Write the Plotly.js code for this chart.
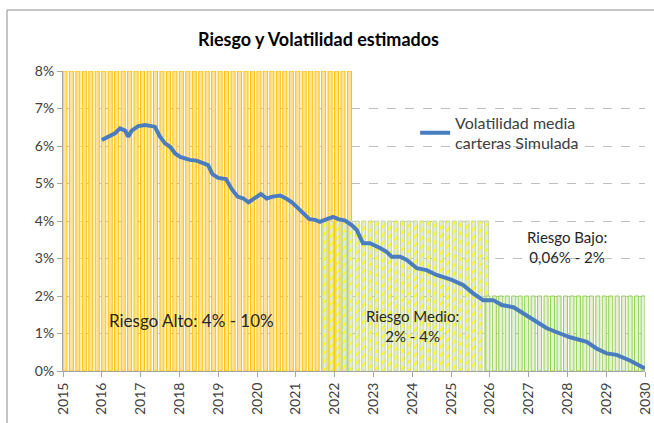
<!DOCTYPE html>
<html>
<head>
<meta charset="utf-8">
<script src="https://cdn.plot.ly/plotly-3.0.1.min.js"></script>
<style>
html,body{margin:0;padding:0;background:#fff;}
#chart{width:654px;height:423px;}
</style>
</head>
<body>
<div id="chart"></div>
<script>
// ---- Data ----
const xTickYears = [2015,2016,2017,2018,2019,2020,2021,2022,2023,2024,2025,2026,2027,2028,2029,2030];
const yTickVals = [0,1,2,3,4,5,6,7,8];
const yTickText = ['0%','1%','2%','3%','4%','5%','6%','7%','8%'];

// Risk zones (bar bands)
const zoneNames  = ['Riesgo Alto', 'Riesgo Medio', 'Riesgo Bajo'];
const zoneStart  = [2015.05, 2021.75, 2025.95];
const zoneEnd    = [2022.40, 2025.85, 2030.00];
const zoneLevel  = [8, 4, 2];
const barsPerYear = 6;

// Volatility line (year, %)
const volYear = [2016.0,2016.21,2016.34,2016.47,2016.6,2016.68,2016.77,2016.94,2017.11,2017.29,2017.37,2017.5,2017.63,2017.76,2017.89,2018.02,2018.14,2018.27,2018.44,2018.62,2018.74,2018.85,2019.0,2019.2,2019.35,2019.5,2019.65,2019.78,2019.9,2020.0,2020.1,2020.25,2020.4,2020.6,2020.75,2020.9,2021.05,2021.2,2021.35,2021.5,2021.62,2021.8,2021.96,2022.1,2022.27,2022.44,2022.57,2022.73,2022.91,2023.17,2023.34,2023.47,2023.69,2023.86,2024.12,2024.37,2024.63,2025.02,2025.32,2025.57,2025.83,2026.09,2026.31,2026.61,2026.86,2027.12,2027.47,2027.81,2028.07,2028.5,2028.75,2029.01,2029.27,2029.61,2030.0];
const volValue = [6.16,6.27,6.34,6.47,6.41,6.25,6.41,6.53,6.56,6.53,6.51,6.25,6.07,5.98,5.8,5.71,5.67,5.63,5.61,5.54,5.49,5.25,5.15,5.12,4.85,4.65,4.6,4.5,4.6,4.65,4.72,4.6,4.65,4.68,4.6,4.5,4.35,4.2,4.05,4.03,3.98,4.05,4.11,4.05,4.01,3.89,3.76,3.41,3.41,3.28,3.18,3.05,3.05,2.96,2.74,2.69,2.56,2.43,2.29,2.07,1.89,1.89,1.76,1.7,1.54,1.36,1.14,1.0,0.9,0.78,0.6,0.47,0.43,0.28,0.07];

// ---- Build bar traces ----
const zoneStyles = [
  {fill:'#FFE29A', line:'#FFC000', pattern:null},
  {fill:'#E3EBD3', line:'#C5D7A5', pattern:{shape:'/', fgcolor:'#FFFF00', bgcolor:'#E3EBD3', size:6, solidity:0.35}},
  {fill:'#E4F1D7', line:'#92D050', pattern:null}
];
const traces = [];
zoneNames.forEach((nm, i) => {
  const xs = [], ys = [];
  const n = Math.round((zoneEnd[i] - zoneStart[i]) * barsPerYear);
  for (let k = 0; k <= n; k++) { xs.push(zoneStart[i] + k / barsPerYear); ys.push(zoneLevel[i]); }
  const st = zoneStyles[i];
  const marker = {color: st.fill, line: {color: st.line, width: 1}};
  if (st.pattern) marker.pattern = st.pattern;
  traces.push({type:'bar', x: xs, y: ys, name: nm, width: 0.62 / barsPerYear,
    marker: marker, showlegend:false, hoverinfo:'skip'});
});
traces.push({type:'scatter', mode:'lines', x: volYear, y: volValue,
  name:'Volatilidad media<br>carteras Simulada',
  line:{color:'#4A7DC0', width:4}});

const font = "Lato, 'Open Sans', 'Liberation Sans', sans-serif";
const layout = {
  width:654, height:423,
  margin:{l:63, r:9, t:71, b:52},
  paper_bgcolor:'#fff', plot_bgcolor:'#fff',
  barmode:'overlay', bargap:0,
  font:{family:font, size:14, color:'#404040'},
  title:{text:'<b>Riesgo y Volatilidad estimados</b>', x:0.487, xanchor:'center', y:0.905, yanchor:'middle',
    font:{family:font, size:18, color:'#000'}},
  xaxis:{range:[2015,2030], tickvals:xTickYears, ticktext:xTickYears.map(String), tickangle:-90,
    showgrid:false, zeroline:false, showline:true, linecolor:'#A6A6A6', linewidth:1,
    ticks:'outside', ticklen:5, tickcolor:'#A6A6A6', tickfont:{size:14, color:'#404040'}},
  yaxis:{range:[0,8], tickvals:yTickVals, ticktext:yTickText,
    showgrid:true, gridcolor:'#BFBFBF', griddash:'dash', gridwidth:1,
    zeroline:false, showline:true, linecolor:'#A6A6A6', linewidth:1,
    ticks:'outside', ticklen:5, tickcolor:'#A6A6A6', tickfont:{size:14, color:'#404040'}},
  legend:{x:0.605, y:0.885, xanchor:'left', yanchor:'top', bgcolor:'rgba(0,0,0,0)',
    font:{size:16, color:'#404040'}, itemwidth:30},
  annotations:[
    {xref:'x', yref:'y', x:2018.3, y:1.35, text:'Riesgo Alto: 4% - 10%', showarrow:false, font:{size:17, color:'#262626'}},
    {xref:'x', yref:'y', x:2024.0, y:1.2, text:'Riesgo Medio:<br>2% - 4%', showarrow:false, font:{size:15, color:'#262626'}},
    {xref:'x', yref:'y', x:2028.0, y:3.3, text:'Riesgo Bajo:<br>0,06% - 2%', showarrow:false, font:{size:15, color:'#262626'}}
  ],
  shapes:[
    {type:'line', xref:'paper', yref:'paper', x0:(7-63)/582, x1:(7-63)/582, y0:(371-10)/300, y1:-0.2, line:{color:'#8C8C8C', width:1}},
    {type:'line', xref:'paper', yref:'paper', x0:(7-63)/582, x1:1.02, y0:(371-10)/300, y1:(371-10)/300, line:{color:'#8C8C8C', width:1}}
  ]
};
Plotly.newPlot('chart', traces, layout, {displayModeBar:false, staticPlot:true});
</script>
</body>
</html>
